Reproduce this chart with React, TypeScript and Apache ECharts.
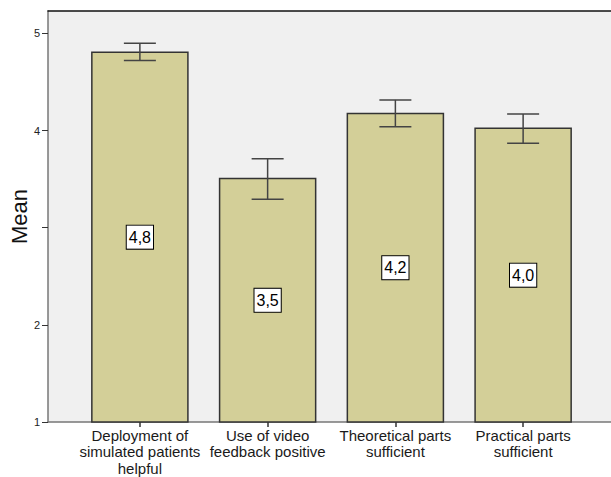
import React, { useEffect, useRef } from "react";
import * as echarts from "echarts";

const categories = [
  "Deployment of\nsimulated patients\nhelpful",
  "Use of video\nfeedback positive",
  "Theoretical parts\nsufficient",
  "Practical parts\nsufficient",
];
const means = [4.805, 3.505, 4.176, 4.022];
const errLow = [4.72, 3.293, 4.039, 3.87];
const errHigh = [4.897, 3.71, 4.315, 4.17];
const valueLabels = ["4,8", "3,5", "4,2", "4,0"];
const yTicks = [1, 2, 3, 4, 5];
const yTickLabels = [1, 2, 4, 5];
const yMin = 1;
const yMax = 5.23;

const FONT = "Liberation Sans, Arial, sans-serif";

export default function App() {
  const ref = useRef<HTMLDivElement>(null);
  useEffect(() => {
    if (!ref.current) return;
    const chart = echarts.init(ref.current, null, { renderer: "svg" });
    const option: any = {
      animation: false,
      textStyle: { fontFamily: FONT },
      grid: [
        { left: 48, right: 0, top: 11, bottom: 55, show: true, backgroundColor: "#f0f0f0", borderWidth: 0, containLabel: false, outerBoundsMode: "none" },
        { left: 76, right: 24, top: 11, bottom: 55, containLabel: false, outerBoundsMode: "none" },
      ],
      xAxis: [
        {
          gridIndex: 0, type: "value", min: 0, max: 1, position: "bottom",
          axisLine: { show: true, onZero: false, lineStyle: { color: "#777", width: 1.5 } },
          axisTick: { show: false }, axisLabel: { show: false }, splitLine: { show: false },
        },
        {
          gridIndex: 0, type: "value", min: 0, max: 1, position: "top",
          axisLine: { show: true, onZero: false, lineStyle: { color: "#111", width: 1.5 } },
          axisTick: { show: false }, axisLabel: { show: false }, splitLine: { show: false },
        },
        {
          gridIndex: 1, type: "category", data: categories, position: "bottom",
          axisLine: { show: false, onZero: false },
          axisTick: { show: true, alignWithLabel: true, length: 5, lineStyle: { color: "#333", width: 1.5 } },
          axisLabel: { interval: 0, fontSize: 15, lineHeight: 16.5, color: "#1a1a1a", margin: 5, fontFamily: FONT },
        },
      ],
      yAxis: [
        {
          gridIndex: 0, type: "value", min: yMin, max: yMax, interval: 1,
          name: "Mean", nameLocation: "middle", nameGap: 18, nameMoveOverlap: false,
          nameTextStyle: { fontSize: 22, color: "#111", fontFamily: FONT },
          axisLine: { show: true, lineStyle: { color: "#777", width: 1.5 } },
          axisTick: { show: true, length: 6, lineStyle: { color: "#333", width: 1 }, customValues: yTicks },
          axisLabel: { fontSize: 11, color: "#222", margin: 8, fontFamily: FONT, customValues: yTickLabels },
          splitLine: { show: false },
        },
        {
          gridIndex: 1, type: "value", min: yMin, max: yMax, show: false, splitLine: { show: false },
        },
      ],
      series: [
        {
          type: "custom", xAxisIndex: 2, yAxisIndex: 1, z: 3,
          data: categories.map((_, i) => [i, means[i]]),
          renderItem: (params: any, api: any) => {
            const idx = api.value(0);
            const top = api.coord([idx, api.value(1)]);
            const base = api.coord([idx, yMin]);
            const w = api.size([1, 0])[0] * 0.752;
            return {
              type: "group",
              children: [
                {
                  type: "rect",
                  shape: { x: top[0] - w / 2, y: top[1], width: w, height: base[1] - top[1] },
                  style: { fill: "#d3cf98", stroke: "#333", lineWidth: 1.5 },
                },
                {
                  type: "text",
                  x: top[0], y: (top[1] + base[1]) / 2,
                  style: {
                    text: valueLabels[params.dataIndex], fill: "#000",
                    font: "16px " + FONT, align: "center", verticalAlign: "middle",
                    backgroundColor: "#fff", borderColor: "#000", borderWidth: 1,
                    padding: [4, 2, 3, 2],
                  },
                },
              ],
            };
          },
        },
        {
          type: "custom", xAxisIndex: 2, yAxisIndex: 1, z: 5,
          data: categories.map((_, i) => [i, errLow[i], errHigh[i]]),
          renderItem: (params: any, api: any) => {
            const idx = api.value(0);
            const lo = api.coord([idx, api.value(1)]);
            const hi = api.coord([idx, api.value(2)]);
            const half = 16;
            const style = { stroke: "#444", lineWidth: 1.5 };
            return {
              type: "group",
              children: [
                { type: "line", shape: { x1: lo[0], y1: lo[1], x2: hi[0], y2: hi[1] }, style },
                { type: "line", shape: { x1: hi[0] - half, y1: hi[1], x2: hi[0] + half, y2: hi[1] }, style },
                { type: "line", shape: { x1: lo[0] - half, y1: lo[1], x2: lo[0] + half, y2: lo[1] }, style },
              ],
            };
          },
        },
      ],
    };
    chart.setOption(option);
    return () => chart.dispose();
  }, []);
  return <div ref={ref} style={{ position: "fixed", left: 0, top: 0, width: 611, height: 477, background: "#fff" }} />;
}
